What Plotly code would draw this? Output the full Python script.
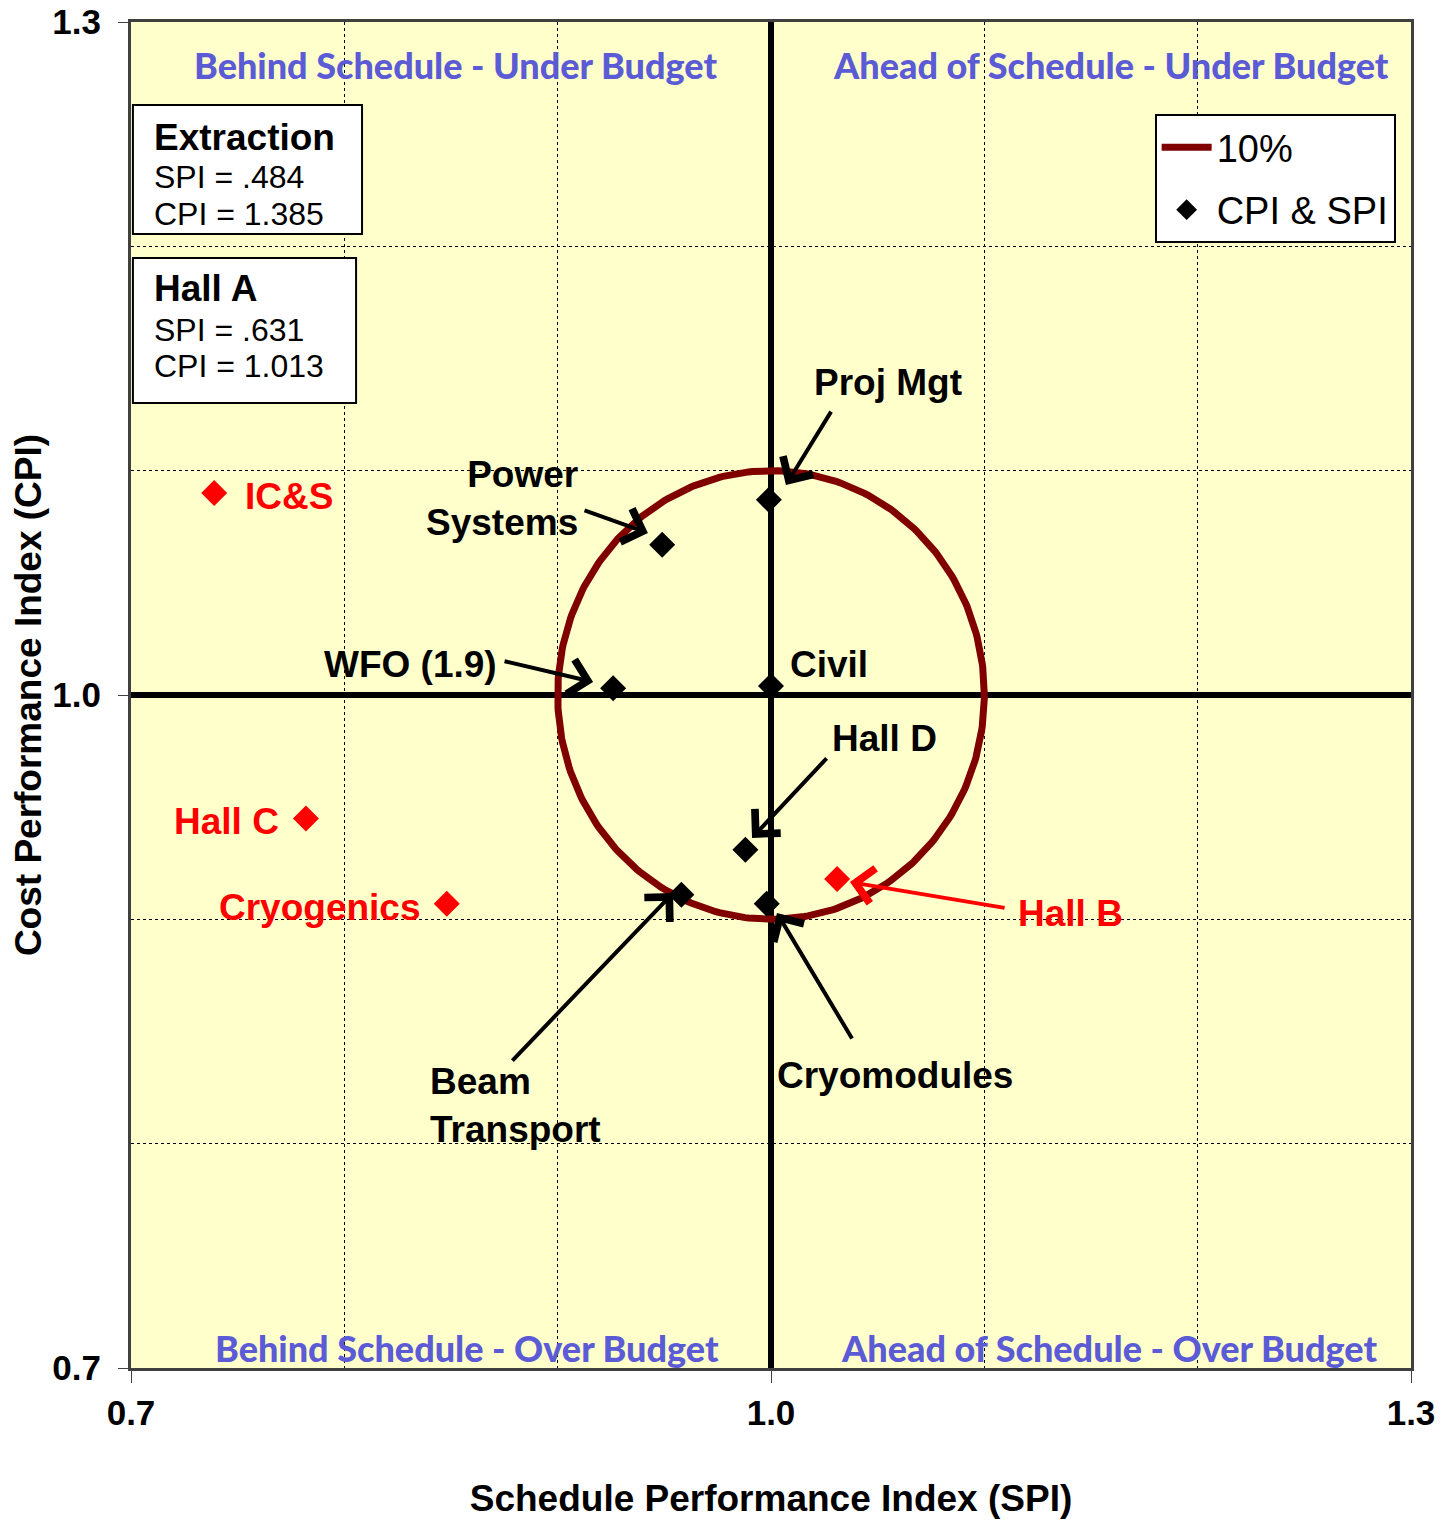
import numpy as np
import plotly.graph_objects as go

# Project elements: schedule (SPI) and cost (CPI) performance
names = ["Power Systems", "Proj Mgt", "WFO (1.9)", "Civil", "Hall D",
         "Beam Transport", "Cryomodules", "IC&S", "Hall C", "Hall B", "Cryogenics"]
spi = [0.949, 0.999, 0.926, 1.000, 0.988, 0.958, 0.998, 0.739, 0.782, 1.031, 0.848]
cpi = [1.067, 1.087, 1.003, 1.004, 0.931, 0.911, 0.907, 1.090, 0.945, 0.918, 0.907]
off_track = ["IC&S", "Hall C", "Hall B", "Cryogenics"]

# Off-scale elements shown in boxes
boxed = ["Extraction", "Hall A"]
boxed_spi = [".484", ".631"]
boxed_cpi = ["1.385", "1.013"]

tolerance = 0.10  # 10% circle around (1, 1)
axis_ticks = [0.7, 1.0, 1.3]

RED = "#FF0000"
BLUE = "#5B5BD6"
FONT = "Liberation Sans, Arial, sans-serif"

fig = go.Figure()

# 10% circle
theta = np.linspace(0, 2 * np.pi, 361)
fig.add_trace(go.Scatter(
    x=1 + tolerance * np.cos(theta), y=1 + tolerance * np.sin(theta),
    mode="lines", name="10%", line=dict(color="#800000", width=7),
    hoverinfo="skip", legendgroup="a",
))

# points: on track (black) and off track (red)
on = [i for i, n in enumerate(names) if n not in off_track]
off = [i for i, n in enumerate(names) if n in off_track]
fig.add_trace(go.Scatter(
    x=[spi[i] for i in on], y=[cpi[i] for i in on], text=[names[i] for i in on],
    mode="markers", name="CPI & SPI",
    marker=dict(symbol="diamond", size=20, color="black"),
    hovertemplate="%{text}<br>SPI=%{x}<br>CPI=%{y}<extra></extra>",
    legendgroup="b",
))
fig.add_trace(go.Scatter(
    x=[spi[i] for i in off], y=[cpi[i] for i in off], text=[names[i] for i in off],
    mode="markers", name="CPI & SPI", showlegend=False,
    marker=dict(symbol="diamond", size=20, color=RED),
    hovertemplate="%{text}<br>SPI=%{x}<br>CPI=%{y}<extra></extra>",
    legendgroup="b",
))

# thick 1.0 cross lines
fig.add_shape(type="line", xref="x", yref="paper", x0=1.0, x1=1.0, y0=0, y1=1,
              line=dict(color="black", width=6), layer="between")
fig.add_shape(type="line", xref="paper", yref="y", x0=0, x1=1, y0=1.0, y1=1.0,
              line=dict(color="black", width=6), layer="between")

# labels: (text, x, y, xanchor, align, color)
labels = [
    ("Proj Mgt", 1.0548, 1.1391, "center", "center", "black"),
    ("Power<br>Systems", 0.9105, 1.0874, "right", "right", "black"),
    ("WFO (1.9)", 0.8308, 1.0138, "center", "center", "black"),
    ("Civil", 1.0080, 1.0134, "left", "left", "black"),
    ("Hall D", 1.0534, 0.9804, "center", "center", "black"),
    ("Hall B", 1.1402, 0.9028, "center", "center", RED),
    ("Beam<br>Transport", 0.8392, 0.8172, "left", "left", "black"),
    ("Cryomodules", 1.0581, 0.8302, "center", "center", "black"),
    ("IC&S", 0.7525, 1.0883, "left", "left", RED),
    ("Hall C", 0.7703, 0.9434, "right", "right", RED),
    ("Cryogenics", 0.7886, 0.9055, "center", "center", RED),
]
for text, x, y, xa, al, col in labels:
    fig.add_annotation(x=x, y=y, text=text, showarrow=False, xanchor=xa, align=al,
                       font=dict(family=FONT, size=37, color=col, weight="bold"))

# arrows: (tail x, tail y, head x, head y, color)
arrows = [
    (1.0286, 1.1270, 1.0070, 1.0936, "black"),
    (0.9119, 1.0825, 0.9423, 1.0722, "black"),
    (0.8744, 1.0152, 0.9166, 1.0058, "black"),
    (1.0267, 0.9724, 0.9911, 0.9363, "black"),
    (1.1102, 0.9050, 1.0370, 0.9166, RED),
    (0.8781, 0.8364, 0.9541, 0.9117, "black"),
    (1.0384, 0.8462, 1.0028, 0.9028, "black"),
]
for tx, ty, hx, hy, col in arrows:
    fig.add_annotation(x=hx, y=hy, ax=tx, ay=ty, axref="x", ayref="y", text="",
                       showarrow=True, arrowhead=4, arrowsize=1.7, arrowwidth=4,
                       arrowcolor=col)

# quadrant labels
quads = [
    ("Behind Schedule - Under Budget", 0.8519, 1.2808),
    ("Ahead of Schedule - Under Budget", 1.1594, 1.2808),
    ("Behind Schedule - Over Budget", 0.8575, 0.7089),
    ("Ahead of Schedule - Over Budget", 1.1584, 0.7089),
]
for text, x, y in quads:
    fig.add_annotation(x=x, y=y, text=text, showarrow=False,
                       font=dict(family="Comic Sans MS, Lato, sans-serif", size=36,
                                 color=BLUE, weight=900))

# boxes for off-scale elements: (x0, x1, y0, y1, line y positions)
box_geom = [
    (0.7009, 0.8083, 1.2055, 1.2630, (1.2487, 1.2309, 1.2144)),
    (0.7009, 0.8055, 1.1302, 1.1948, (1.1810, 1.1627, 1.1467)),
]
for name, s, c, (x0, x1, y0, y1, ys) in zip(boxed, boxed_spi, boxed_cpi, box_geom):
    fig.add_shape(type="rect", xref="x", yref="y", x0=x0, x1=x1, y0=y0, y1=y1,
                  fillcolor="white", line=dict(color="black", width=2), layer="above")
    rows = [(name, 37, "bold"), (f"SPI = {s}", 32, "normal"), (f"CPI = {c}", 32, "normal")]
    for (txt, sz, wt), yy in zip(rows, ys):
        fig.add_annotation(x=0.7098, y=yy, text=txt, showarrow=False, xanchor="left",
                           font=dict(family=FONT, size=sz, color="black", weight=wt))

fig.update_layout(
    width=1455, height=1520,
    margin=dict(l=123, r=52, t=14, b=160),
    paper_bgcolor="white", plot_bgcolor="#FFFFCC",
    font=dict(family=FONT, color="black"),
    showlegend=True,
    legend=dict(x=0.988, y=0.9316, xanchor="right", yanchor="top",
                bgcolor="white", bordercolor="black", borderwidth=2,
                font=dict(size=38), traceorder="grouped", tracegroupgap=10,
                itemwidth=50),
    xaxis=dict(
        range=[0.7, 1.3], tickvals=axis_ticks, ticktext=["0.7", "1.0", "1.3"],
        showgrid=False, zeroline=False, ticks="outside", ticklen=12, automargin=False,
        tickcolor="#404040", showline=True, mirror=True, linecolor="#404040", linewidth=3,
        tickfont=dict(size=35, weight="bold"), ticklabeloverflow="allow",
        minor=dict(tickmode="linear", tick0=0.7, dtick=0.1, showgrid=True,
                   gridcolor="black", griddash="dot", gridwidth=1, ticks=""),
        title=dict(text="Schedule Performance Index (SPI)", standoff=55,
                   font=dict(size=37, weight="bold")),
    ),
    yaxis=dict(
        range=[0.7, 1.3], tickvals=axis_ticks, ticktext=["0.7", "1.0", "1.3"],
        showgrid=False, zeroline=False, ticks="outside", ticklen=10, automargin=False,
        tickcolor="#404040", showline=True, mirror=True, linecolor="#404040", linewidth=3,
        tickfont=dict(size=35, weight="bold"), ticklabelstandoff=10,
        ticklabeloverflow="allow",
        minor=dict(tickmode="linear", tick0=0.7, dtick=0.1, showgrid=True,
                   gridcolor="black", griddash="dot", gridwidth=1, ticks=""),
        title=dict(text="Cost Performance Index (CPI)", standoff=4,
                   font=dict(size=37, weight="bold")),
    ),
)

fig.write_html("out.html")
